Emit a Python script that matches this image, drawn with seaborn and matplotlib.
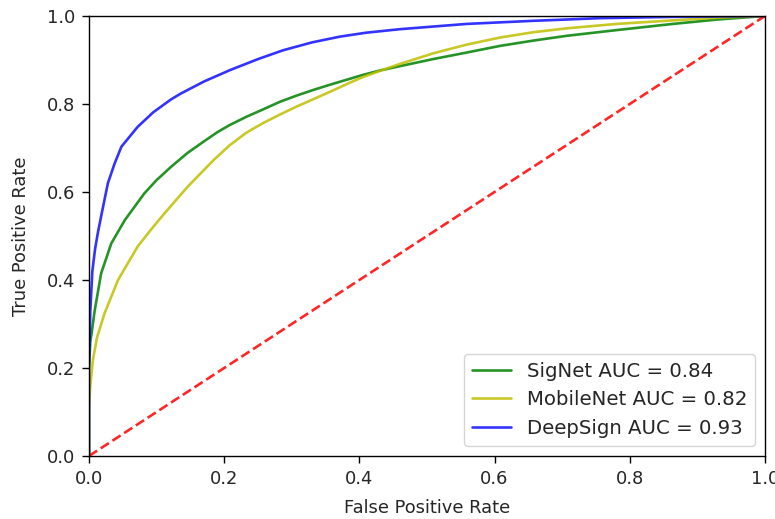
import matplotlib
matplotlib.use("Agg")
import matplotlib.pyplot as plt
import seaborn as sns

# ROC points
signet_fpr = [0, 0, 0.002, 0.004, 0.0084, 0.018, 0.033, 0.053, 0.082, 0.1, 0.122,
              0.146, 0.171, 0.19, 0.208, 0.233, 0.258, 0.2825, 0.307, 0.332, 0.357,
              0.381, 0.405, 0.43, 0.46, 0.509, 0.559, 0.608, 0.657, 0.707, 0.781,
              0.864, 0.93, 1.0]
signet_tpr = [0, 0.2, 0.26, 0.28, 0.33, 0.415, 0.483, 0.536, 0.597, 0.627, 0.658,
              0.689, 0.716, 0.736, 0.752, 0.771, 0.788, 0.805, 0.819, 0.832, 0.844,
              0.855, 0.866, 0.876, 0.886, 0.902, 0.917, 0.932, 0.944, 0.955, 0.968,
              0.982, 0.992, 1.0]

mobilenet_fpr = [0, 0, 0.002, 0.006, 0.012, 0.023, 0.043, 0.072, 0.092, 0.112, 0.146,
                 0.184, 0.208, 0.233, 0.258, 0.2825, 0.307, 0.332, 0.357, 0.381,
                 0.405, 0.43, 0.46, 0.509, 0.559, 0.608, 0.657, 0.707, 0.781, 0.864,
                 0.93, 1.0]
mobilenet_tpr = [0, 0.11, 0.16, 0.22, 0.27, 0.324, 0.40, 0.476, 0.515, 0.552, 0.612,
                 0.672, 0.706, 0.735, 0.757, 0.776, 0.794, 0.811, 0.828, 0.845,
                 0.861, 0.875, 0.891, 0.915, 0.935, 0.951, 0.963, 0.972, 0.982, 0.99,
                 0.996, 1.0]

deepsign_fpr = [0, 0, 0.002, 0.005, 0.009, 0.013, 0.02, 0.028, 0.038, 0.048, 0.072,
                0.095, 0.121, 0.135, 0.17, 0.2086, 0.25, 0.287, 0.33, 0.371, 0.41,
                0.46, 0.559, 0.657, 0.756, 0.864, 1.0]
deepsign_tpr = [0, 0.2, 0.33, 0.42, 0.47, 0.506, 0.56, 0.62, 0.665, 0.703, 0.748,
                0.781, 0.81, 0.823, 0.851, 0.877, 0.902, 0.922, 0.94, 0.953, 0.962,
                0.97, 0.982, 0.989, 0.995, 0.998, 1.0]

chance_fpr = [0, 1]
chance_tpr = [0, 1]

sns.set_style("ticks")
plt.rcParams['font.family'] = ['DejaVu Sans']
plt.rcParams['axes.edgecolor'] = 'black'

fig = plt.figure(figsize=(7.75, 5.19), dpi=100)
ax = fig.add_axes([0.1148, 0.1214, 0.8722, 0.8478])

lw = 1.9
sns.lineplot(x=signet_fpr, y=signet_tpr, ax=ax, color='g', alpha=0.85, lw=lw,
             estimator=None, sort=False, label='SigNet AUC = 0.84')
sns.lineplot(x=mobilenet_fpr, y=mobilenet_tpr, ax=ax, color='y', alpha=0.85, lw=lw,
             estimator=None, sort=False, label='MobileNet AUC = 0.82')
sns.lineplot(x=deepsign_fpr, y=deepsign_tpr, ax=ax, color='b', alpha=0.8, lw=lw,
             estimator=None, sort=False, label='DeepSign AUC = 0.93')
sns.lineplot(x=chance_fpr, y=chance_tpr, ax=ax, color='r', alpha=0.85, lw=lw,
             linestyle='--', estimator=None, sort=False)

ax.set_xlim(0, 1)
ax.set_ylim(0, 1)
ax.set_xlabel('False Positive Rate', fontsize=12.9, labelpad=8)
ax.set_ylabel('True Positive Rate', fontsize=12.9, labelpad=12)
ax.tick_params(axis='both', labelsize=12.9, length=5, width=1, pad=5, color='black')
for s in ax.spines.values():
    s.set_linewidth(1)

ax.legend(loc='lower right', fontsize=14.2, frameon=True, framealpha=0.8,
          edgecolor='0.8', fancybox=True)

fig.savefig('out.png', dpi=100)
